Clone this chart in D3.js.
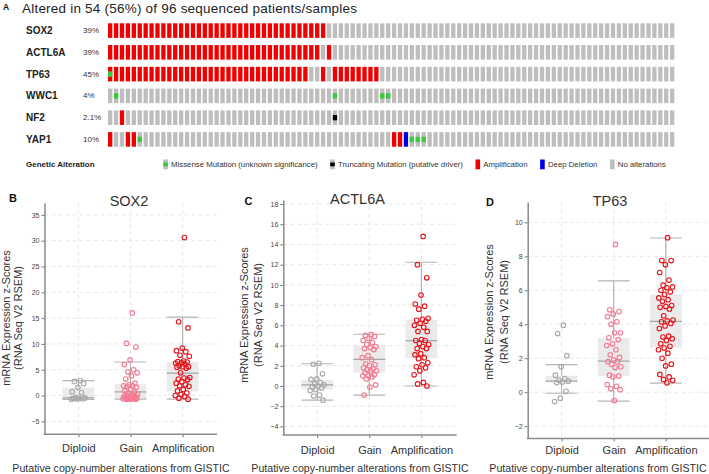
<!DOCTYPE html>
<html><head><meta charset="utf-8">
<script src="https://cdn.jsdelivr.net/npm/d3@7"></script>
<style>
body{margin:0;background:#fff}
svg{display:block}
text{font-family:"Liberation Sans",Arial,Helvetica,sans-serif}
</style>
</head><body>
<svg id="c" width="709" height="474"></svg>
<script>
// ---------------- DATA ----------------
const titleText = "Altered in 54 (56%) of 96 sequenced patients/samples";
const genes = ["SOX2","ACTL6A","TP63","WWC1","NF2","YAP1"];
const genePct = ["39%","39%","45%","4%","2.1%","10%"];
// one code per sample (96): A amplification, M missense, X amplification+missense,
// T truncating, D deep deletion, . no alteration
const geneRows = [
 "AAAAAAAAAAAA AAAAAAAAAAAA AAAAAAAAAAAA A........... ............ ............ ............ ............",
 "AAAAAAAAAAAA AAAAAAAAAAAA AAAAAAAAAAAA .A.......... ............ ............ ............ ............",
 "XAAAAAAAAAAA AAAAAAAAAAAA AAAAAAAAAA.. A.AAAAAAAA.. ............ ............ ............ ............",
 ".M.......... ............ ............ ..M.......MM ............ ............ ............ ............",
 "..A......... ............ ............ ..T......... ............ ............ ............ ............",
 "A..AAM...... ............ ............ ............ AADMMM...... ............ ............ ............"
];
const legendTitle = "Genetic Alteration";
const legendLabels = ["Missense Mutation (unknown significance)","Truncating Mutation (putative driver)","Amplification","Deep Deletion","No alterations"];
const legendCodes = ["M","T","A","D","."];

const cnaCats = ["Diploid","Gain","Amplification"];
const xTitle = "Putative copy-number alterations from GISTIC";
const yTitle1 = "mRNA Expression z-Scores";
const yTitle2 = "(RNA Seq V2 RSEM)";

const sox2Diploid = [2.9,2.75,2.35,1.6,0.75,0.6,-0.4,-0.45,-0.5,-0.55,-0.6,-0.65,-0.7];
const sox2Gain = [16.0,10.1,9.4,6.9,6.0,5.0,4.6,4.4,3.8,3.2,2.4,2.1,1.9,1.9,1.8,1.6,1.2,0.9,0.7,0.5,0.3,0.2,0.1,0.0,-0.1,-0.2,-0.3,-0.4,-0.4,-0.5,-0.5,-0.5,-0.6,-0.6,-0.6,-0.7,-0.7,-0.7];
const sox2Amp = [30.6,14.3,13.1,9.2,8.7,8.5,7.8,7.6,6.7,6.6,6.5,6.4,6.3,6.1,5.8,5.6,5.6,5.5,5.3,4.4,3.5,3.4,3.2,3.1,2.7,2.4,2.1,1.9,1.8,1.2,0.9,0.5,0.2,0.0,-0.2,-0.5,-0.7];
const sox2Box = [[-0.75,-0.7,-0.45,1.55,2.9],[-0.7,-0.65,0.7,2.2,6.5],[-0.7,0.8,4.35,6.5,15.2]];
const sox2Ticks = [-5,0,5,10,15,20,25,30,35];

const actl6aDiploid = [2.25,2.15,1.2,0.7,0.65,0.35,0.2,0.1,0.0,-0.1,-0.2,-0.35,-0.45,-0.9,-1.0,-1.4];
const actl6aGain = [5.1,5.0,4.9,4.7,4.5,4.3,4.1,3.9,3.8,3.7,3.6,3.0,2.8,2.6,2.2,2.1,2.0,1.8,1.7,1.6,1.5,1.5,1.3,1.1,1.0,1.0,0.9,0.7,0.1,-0.1,-0.9];
const actl6aAmp = [14.8,12.0,10.7,9.0,8.1,7.9,7.6,6.7,6.6,6.5,6.4,6.2,6.0,5.8,5.4,5.4,4.6,4.5,4.5,4.2,4.1,3.9,3.7,3.7,3.2,3.1,2.8,2.7,2.3,2.1,1.9,1.8,1.5,1.1,0.35,0.2,0.0];
const actl6aBox = [[-1.4,-0.33,0.1,0.6,2.2],[-0.9,1.32,2.64,4.0,5.12],[0.0,2.74,4.49,6.53,12.24]];
const actl6aTicks = [-4,-2,0,2,4,6,8,10,12,14,16,18];

const tp63Diploid = [3.95,3.45,2.15,1.5,1.0,0.8,0.7,0.65,0.6,0.57,0.05,-0.35,-0.55];
const tp63Gain = [8.7,4.85,4.75,4.6,4.45,4.15,4.0,3.5,3.5,3.2,3.1,2.85,2.75,2.5,2.2,2.05,1.9,1.8,1.8,1.65,1.5,1.45,1.0,0.95,0.9,0.45,0.35,0.2,0.15,-0.5];
const tp63Amp = [9.1,7.75,7.75,7.5,7.05,6.6,6.3,6.2,6.15,6.0,5.9,5.75,5.55,5.45,5.35,5.1,5.05,5.0,4.9,4.5,4.25,4.2,4.15,4.05,3.9,3.75,3.3,3.25,3.15,3.05,2.85,2.7,2.6,2.5,2.3,2.0,1.65,1.55,1.05,0.9,0.75,0.7,0.55];
const tp63Box = [[-0.06,0.58,0.65,0.97,1.62],[-0.52,0.96,1.83,3.19,6.55],[0.53,2.62,4.17,5.74,9.08]];
const tp63Ticks = [-2,0,2,4,6,8,10];

// ---------------- STYLE ----------------
const altColor = {A:"#f00000", X:"#f00000", D:"#0000e6", ".":"#bebebe", M:"#bebebe", T:"#bebebe"};
const markColor = {M:"#3cc83c", X:"#3cc83c", T:"#000000"};
const catColors = ["#a9a9a9","#f47a92","#e8141c"];

const svg = d3.select("#c");

// ---------------- PANEL A (oncoprint) ----------------
svg.append("text").attr("x",3).attr("y",9.5).attr("font-size",8.5).attr("font-weight","bold").attr("fill","#111").text("A");
svg.append("text").attr("x",22).attr("y",12.5).attr("font-size",13.5).attr("fill","#222")
  .attr("textLength",335).attr("lengthAdjust","spacing").text(titleText);

const rows = geneRows.map(r => r.replace(/ /g,"").split(""));
const xs = d3.scaleBand().domain(d3.range(rows[0].length)).range([108,674.3]).paddingInner(0.27);
const ys = d3.scaleBand().domain(genes).range([23.3,146.7]).paddingInner(0.33);
const bw = xs.bandwidth(), bh = ys.bandwidth();

const rowG = svg.selectAll("g.row").data(genes).join("g").attr("class","row")
  .attr("transform", g => `translate(0,${ys(g)})`);
rowG.each(function(g, gi){
  const sel = d3.select(this);
  sel.selectAll("rect.base").data(rows[gi]).join("rect").attr("class","base")
    .attr("x",(c,i)=>xs(i)).attr("y",0).attr("width",bw).attr("height",bh)
    .attr("fill", c => altColor[c]);
  sel.selectAll("rect.mark").data(rows[gi].map((c,i)=>({c,i})).filter(d=>markColor[d.c])).join("rect").attr("class","mark")
    .attr("x",d=>xs(d.i)).attr("y",bh/2-2.7).attr("width",bw).attr("height",5.4)
    .attr("fill", d => markColor[d.c]);
  sel.append("text").attr("x",26).attr("y",bh/2).attr("dominant-baseline","central")
    .attr("font-size",10).attr("font-weight","bold").attr("fill","#222").text(g);
  sel.append("text").attr("x",83).attr("y",bh/2).attr("dominant-baseline","central")
    .attr("font-size",8).attr("fill","#333").text(genePct[gi]);
});

// legend
svg.append("text").attr("x",26).attr("y",164).attr("dominant-baseline","central")
  .attr("font-size",8).attr("font-weight","bold").attr("fill","#222").text(legendTitle);
let lx = 163.3;
legendLabels.forEach((lab, i) => {
  const code = legendCodes[i];
  svg.append("rect").attr("x",lx).attr("y",159.5).attr("width",4.6).attr("height",9.8).attr("fill",altColor[code]);
  if (markColor[code]) svg.append("rect").attr("x",lx).attr("y",162.5).attr("width",4.6).attr("height",3.8).attr("fill",markColor[code]);
  const t = svg.append("text").attr("x",lx+7.8).attr("y",164.5).attr("dominant-baseline","central")
    .attr("font-size",7.8).attr("fill","#333").text(lab);
  lx = lx + 7.8 + t.node().getComputedTextLength() + 12.6;
});

// ---------------- PANELS B, C, D ----------------
const panels = [
  {letter:"B", gene:"SOX2", data:[sox2Diploid,sox2Gain,sox2Amp], box:sox2Box, ticks:sox2Ticks,
   x0:44.5, x1:217, yDom:[-7.5,37.3], yTop:203, yBot:434.3,
   letterPos:[9,202], titlePos:[129,206], yLab:[6,18,318], xTitleX:121, catY:448},
  {letter:"C", gene:"ACTL6A", data:[actl6aDiploid,actl6aGain,actl6aAmp], box:actl6aBox, ticks:actl6aTicks,
   x0:283.3, x1:456.7, yDom:[-4.85,18.4], yTop:200, yBot:435,
   letterPos:[244.5,205], titlePos:[357.5,204], yLab:[244,258,315], xTitleX:360, catY:450},
  {letter:"D", gene:"TP63", data:[tp63Diploid,tp63Gain,tp63Amp], box:tp63Box, ticks:tp63Ticks,
   x0:527.7, x1:709, yDom:[-2.72,11.2], yTop:202, yBot:438.4,
   letterPos:[486,206], titlePos:[610,206], yLab:[489,503.5,312], xTitleX:598, catY:450}
];

panels.forEach(p => {
  const g = svg.append("g");
  const x = d3.scalePoint().domain(cnaCats).range([p.x0, p.x0+172]).padding(0.65);
  const y = d3.scaleLinear().domain(p.yDom).range([p.yBot, p.yTop]);

  // grid
  g.selectAll("line.hg").data(p.ticks).join("line").attr("class","hg")
    .attr("x1",p.x0).attr("x2",p.x1).attr("y1",d=>y(d)).attr("y2",d=>y(d))
    .attr("stroke","#e6e6e6").attr("stroke-dasharray","4,3");
  g.selectAll("line.vg").data(cnaCats).join("line").attr("class","vg")
    .attr("x1",d=>x(d)).attr("x2",d=>x(d)).attr("y1",p.yTop).attr("y2",p.yBot)
    .attr("stroke","#e6e6e6").attr("stroke-dasharray","4,3");

  // boxes
  const hw = 15.9;
  cnaCats.forEach((c, ci) => {
    const [lo,q1,med,q3,hi] = p.box[ci];
    const cx = x(c);
    g.append("line").attr("x1",cx).attr("x2",cx).attr("y1",y(lo)).attr("y2",y(hi)).attr("stroke","#b4b4b4").attr("stroke-width",1.2);
    g.append("rect").attr("x",cx-hw).attr("width",hw*2).attr("y",y(q3)).attr("height",y(q1)-y(q3)).attr("fill","#ebebeb");
    g.append("line").attr("x1",cx-hw).attr("x2",cx+hw).attr("y1",y(med)).attr("y2",y(med)).attr("stroke","#a6a6a6").attr("stroke-width",1.2);
    [lo,hi].forEach(v => g.append("line").attr("x1",cx-hw).attr("x2",cx+hw).attr("y1",y(v)).attr("y2",y(v)).attr("stroke","#b4b4b4").attr("stroke-width",1.2));
  });

  // points (deterministic jitter)
  cnaCats.forEach((c, ci) => {
    g.selectAll(null).data(p.data[ci]).join("circle")
      .attr("cx",(v,i)=> x(c) + ((((i+1)*0.6180339887) % 1) - 0.5) * 15)
      .attr("cy",v=>y(v)).attr("r",2.3)
      .attr("fill","none").attr("stroke",catColors[ci]).attr("stroke-width",1.1);
  });

  // y axis
  const ya = g.append("g").attr("transform",`translate(${p.x0},0)`)
    .call(d3.axisLeft(y).tickValues(p.ticks).tickSize(3).tickSizeOuter(0).tickPadding(2));
  ya.select(".domain").attr("stroke","#8a8a8a").attr("stroke-width",1.5);
  ya.selectAll(".tick line").attr("stroke","#777");
  ya.selectAll(".tick text").attr("font-size",7).attr("fill","#444").attr("font-family","Liberation Sans, Arial, sans-serif");

  // x axis
  const xa = g.append("g").attr("transform",`translate(0,${p.yBot})`)
    .call(d3.axisBottom(x).tickSize(3).tickSizeOuter(0).tickPadding(p.catY - p.yBot - 7));
  xa.select(".domain").remove();
  xa.selectAll(".tick line").attr("stroke","#777");
  xa.selectAll(".tick text").attr("font-size",11).attr("fill","#333").attr("font-family","Liberation Sans, Arial, sans-serif");
  g.append("line").attr("x1",p.x0-0.75).attr("x2",p.x1).attr("y1",p.yBot).attr("y2",p.yBot)
    .attr("stroke","#8a8a8a").attr("stroke-width",1.5);

  // labels
  g.append("text").attr("x",p.letterPos[0]).attr("y",p.letterPos[1]).attr("font-size",11).attr("font-weight","bold").attr("fill","#111").text(p.letter);
  g.append("text").attr("x",p.titlePos[0]).attr("y",p.titlePos[1]).attr("text-anchor","middle").attr("font-size",14.5).attr("fill","#333").text(p.gene);
  g.append("text").attr("transform",`translate(${p.yLab[0]},${p.yLab[2]}) rotate(-90)`).attr("text-anchor","middle")
    .attr("dominant-baseline","central").attr("font-size",11).attr("fill","#333").text(yTitle1);
  g.append("text").attr("transform",`translate(${p.yLab[1]},${p.yLab[2]}) rotate(-90)`).attr("text-anchor","middle")
    .attr("dominant-baseline","central").attr("font-size",11).attr("fill","#333").text(yTitle2);
  g.append("text").attr("x",p.xTitleX).attr("y",468).attr("text-anchor","middle").attr("dominant-baseline","central")
    .attr("font-size",10.6).attr("fill","#333").text(xTitle);
});
</script>
</body></html>
